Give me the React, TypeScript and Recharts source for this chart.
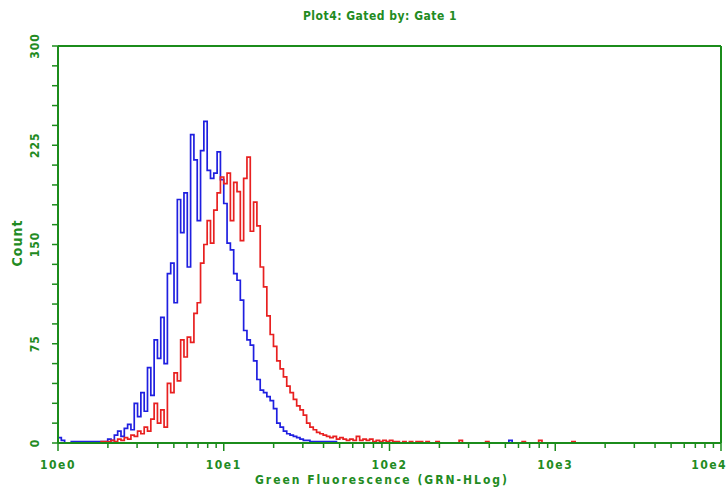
import React from 'react';
import { LineChart, Line, XAxis, YAxis, ReferenceLine } from 'recharts';

// Histogram channels: each channel spans 0.02 decade of the log axis
const BIN_STEP = 0.02;

const blueCounts = [
  4, 2, 0, 0, 1, 1, 1, 1, 1, 1, 1, 1, 1, 1,
  1, 3, 2, 6, 9, 5, 11, 14, 10, 30, 20, 38, 24, 57, 36, 78, 64, 95, 60, 128,
  136, 106, 184, 159, 189, 133, 233, 214, 168, 221, 243, 206, 200, 204, 220, 199, 181, 151, 146, 128,
  123, 108, 85, 78, 74, 62, 48, 40, 38, 35, 32, 26, 15, 12, 9, 7, 6, 5, 4, 3,
  2, 2, 1, 1, 1, 1, 1, 1, 1, 1, 0,
  0, 0, 0, 0, 0, 0, 0, 0, 0, 0, 0, 0, 0, 0, 0, 0, 0, 0, 0, 0, 0, 0, 0, 0, 0,
  0, 0, 0, 0, 0, 0, 0, 0, 0, 0, 0, 0, 0, 0, 0, 0, 0, 0, 0, 0, 0, 0, 0, 0, 0, 0,
  2, 0,
];

const redCounts = [
  0, 0, 0, 0, 0, 0, 0, 0, 0, 0, 0, 0, 0,
  1, 1, 1, 2, 1, 3, 2, 4, 3, 6, 5, 9, 7, 12, 9,
  18, 30, 15, 25, 12, 45, 38, 53, 47, 78, 65, 80, 76, 98, 106, 136, 150, 168, 151, 176, 189, 201, 196, 204, 168, 197, 190, 153, 200, 216,
  160, 182, 164, 133, 118, 96, 82, 73, 62, 56, 50, 43, 38, 33, 28, 25, 21, 15, 12, 10, 8, 7,
  6, 5, 4, 5, 3, 4, 3, 2, 3, 2, 5, 2, 3, 2, 3, 1, 2, 1, 2, 1, 2, 1, 1, 0, 1, 0, 1, 0, 1, 1, 0, 1, 0, 0, 1, 0,
  0, 0, 0, 0, 0, 2, 0, 0, 0, 0, 0, 0, 0, 1, 0, 0, 0, 0, 0, 0, 0, 0, 0, 0, 1, 0, 0, 0, 0, 2,
  0, 0, 0, 0, 0, 0, 0, 0, 0, 1, 0,
];

const xMajorTicks = [1, 10, 100, 1000, 10000];
const xTickLabels = ['10e0', '10e1', '10e2', '10e3', '10e4'];
const xMinorMultipliers = [2, 3, 4, 5, 6, 7, 8, 9];
const yTicks = [0, 15, 30, 45, 60, 75, 90, 105, 120, 135, 150, 165, 180, 195, 210, 225, 240, 255, 270, 285, 300];
const yLabelTicks = [0, 75, 150, 225, 300];

const TITLE = 'Plot4: Gated by: Gate 1';
const X_TITLE = 'Green Fluorescence (GRN-HLog)';
const Y_TITLE = 'Count';

const GREEN = '#1b8c1b';
const TEXT_GREEN = '#228b22';
const BLUE = '#1f1fe0';
const RED = '#e82020';
const FONT = '"DejaVu Sans Condensed", "DejaVu Sans", sans-serif';

const nChannels = Math.max(blueCounts.length, redCounts.length);
const data = Array.from({ length: nChannels }, (_, i) => ({
  intensity: Math.pow(10, i * BIN_STEP),
  blue: blueCounts[i],
  red: redCounts[i],
}));

const xTicks: number[] = [];
xMajorTicks.forEach((t, k) => {
  xTicks.push(t);
  if (k < xMajorTicks.length - 1) xMinorMultipliers.forEach((m) => xTicks.push(m * t));
});

const XTick = (props: any) => {
  const { x, y, payload } = props;
  const idx = xMajorTicks.indexOf(payload.value);
  const major = idx >= 0;
  const last = idx === xMajorTicks.length - 1;
  return (
    <g>
      <line x1={x} x2={x} y1={y} y2={y + (major ? 8 : 5)} stroke={GREEN} strokeWidth={1.5} />
      {major && (
        <text
          x={last ? 727 : x}
          y={y + 26}
          textAnchor={last ? 'end' : 'middle'}
          fill={TEXT_GREEN}
          fontFamily={FONT}
          fontWeight="bold"
          fontSize={12}
          letterSpacing={1.5}
        >
          {xTickLabels[idx]}
        </text>
      )}
    </g>
  );
};

const YTick = (props: any) => {
  const { x, y, payload } = props;
  const v = payload.value;
  const labeled = yLabelTicks.indexOf(v) >= 0;
  return (
    <g>
      <line x1={x - 6} x2={x} y1={y} y2={y} stroke={GREEN} strokeWidth={1.5} />
      {labeled && (
        <text
          transform={`translate(${x - 19},${y}) rotate(-90)`}
          textAnchor="middle"
          fill={TEXT_GREEN}
          fontFamily={FONT}
          fontWeight="bold"
          fontSize={12}
          letterSpacing={1}
        >
          {v}
        </text>
      )}
    </g>
  );
};

export default function App() {
  return (
    <div style={{ position: 'absolute', left: 0, top: 0, width: 728, height: 491, background: '#fff' }}>
      <div
        style={{
          position: 'absolute',
          left: 0,
          width: 760,
          top: 9,
          textAlign: 'center',
          color: TEXT_GREEN,
          fontFamily: FONT,
          fontWeight: 'bold',
          fontSize: 12,
          letterSpacing: 0.5,
        }}
      >
        {TITLE}
      </div>
      <div
        style={{
          position: 'absolute',
          left: 0,
          width: 764,
          top: 473,
          textAlign: 'center',
          color: TEXT_GREEN,
          fontFamily: FONT,
          fontWeight: 'bold',
          fontSize: 12,
          letterSpacing: 2,
        }}
      >
        {X_TITLE}
      </div>
      <div
        style={{
          position: 'absolute',
          left: 17,
          top: 243,
          transform: 'translate(-50%, -50%) rotate(-90deg)',
          color: TEXT_GREEN,
          fontFamily: FONT,
          fontWeight: 'bold',
          fontSize: 14,
          letterSpacing: 1,
          whiteSpace: 'nowrap',
        }}
      >
        {Y_TITLE}
      </div>
      <div style={{ position: 'absolute', left: 0, top: 0 }}>
        <LineChart width={728} height={491} data={data} margin={{ top: 46, right: 7, bottom: 8, left: 8 }}>
          <Line
            type="stepAfter"
            dataKey="blue"
            stroke={BLUE}
            strokeWidth={1.7}
            dot={false}
            activeDot={false}
            isAnimationActive={false}
          />
          <Line
            type="stepAfter"
            dataKey="red"
            stroke={RED}
            strokeWidth={1.7}
            dot={false}
            activeDot={false}
            isAnimationActive={false}
          />
          <XAxis
            dataKey="intensity"
            type="number"
            scale="log"
            domain={[1, 10000]}
            ticks={xTicks}
            interval={0}
            allowDataOverflow
            height={40}
            tickLine={false}
            tickSize={0}
            tickMargin={0}
            tick={<XTick />}
            axisLine={{ stroke: GREEN, strokeWidth: 2 }}
          />
          <YAxis
            type="number"
            domain={[0, 300]}
            ticks={yTicks}
            interval={0}
            width={50}
            tickLine={false}
            tickSize={0}
            tickMargin={0}
            tick={<YTick />}
            axisLine={{ stroke: GREEN, strokeWidth: 2 }}
          />
          <ReferenceLine y={0} stroke={GREEN} strokeWidth={2} />
          <ReferenceLine y={300} stroke={GREEN} strokeWidth={2} />
          <ReferenceLine x={10000} stroke={GREEN} strokeWidth={2} />
        </LineChart>
      </div>
    </div>
  );
}
